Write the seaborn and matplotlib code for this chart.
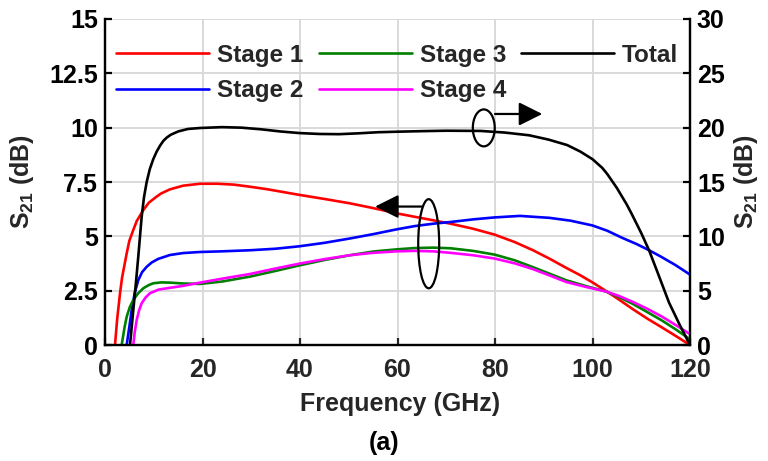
import matplotlib
matplotlib.use("Agg")
import matplotlib.pyplot as plt
import pandas as pd
import seaborn as sns
from matplotlib.patches import Ellipse
from matplotlib.lines import Line2D

# ---- S21 of each amplifier stage (left axis, dB) ----
freq_stage1 = [2.05, 2.5, 3.08, 3.5, 4.45, 5.0, 5.8, 6.5, 7.86, 9.0, 10.6, 11.5, 13.3, 16,
               19.5, 23, 26.4, 29.5, 33.2, 36.5, 39.8, 45, 50.2, 55, 59.8, 63.5, 67.3, 70.9,
               75.5, 79.9, 84, 87.8, 91.2, 94.6, 97.4, 100, 102.8, 105.5, 108.2, 111.2, 114.3,
               117.2, 120]
s21_stage1 = [0, 1.2, 2.38, 3.1, 4.22, 4.8, 5.29, 5.7, 6.21, 6.55, 6.83, 6.97, 7.16, 7.33,
              7.42, 7.42, 7.38, 7.29, 7.17, 7.04, 6.91, 6.72, 6.52, 6.30, 6.06, 5.90, 5.74,
              5.58, 5.35, 5.08, 4.74, 4.36, 3.97, 3.55, 3.22, 2.88, 2.48, 2.08, 1.66, 1.22,
              0.80, 0.40, 0]

freq_stage2 = [4.45, 5.0, 5.47, 6.1, 6.84, 7.6, 8.55, 9.6, 10.9, 13.3, 16, 19.5, 24, 29.8, 35,
               39.8, 45, 50.2, 55, 59.8, 63.5, 67.3, 70.9, 75.5, 79.9, 85.1, 91.2, 95.5, 100,
               103, 106.2, 109, 111.6, 114, 117, 120]
s21_stage2 = [0, 0.85, 1.61, 2.4, 2.99, 3.35, 3.60, 3.8, 3.96, 4.14, 4.23, 4.28, 4.31, 4.36,
              4.43, 4.54, 4.70, 4.90, 5.10, 5.32, 5.47, 5.58, 5.66, 5.78, 5.87, 5.94, 5.85,
              5.72, 5.50, 5.26, 4.92, 4.65, 4.36, 4.07, 3.68, 3.24]

freq_stage3 = [3.42, 4.0, 4.45, 5.1, 5.8, 6.8, 7.86, 9.0, 9.9, 11.5, 13.3, 16, 19.5, 24, 29.8,
               35, 39.8, 45, 50.2, 55, 59.8, 63.5, 67.3, 70.9, 75.5, 79.9, 84, 87.8, 91.2,
               94.6, 98.5, 102.8, 105.5, 108.2, 111.2, 114.3, 117.2, 120]
s21_stage3 = [0, 0.8, 1.30, 1.75, 2.07, 2.38, 2.61, 2.76, 2.84, 2.88, 2.87, 2.83, 2.81, 2.92,
              3.15, 3.41, 3.66, 3.91, 4.13, 4.30, 4.40, 4.46, 4.48, 4.45, 4.33, 4.16, 3.90,
              3.58, 3.28, 2.98, 2.72, 2.46, 2.20, 1.90, 1.52, 1.12, 0.70, 0.26]

freq_stage4 = [5.8, 6.1, 6.5, 7.0, 7.52, 8.3, 9.2, 11, 13.3, 16, 19.5, 24, 29.8, 35, 39.8, 45,
               50.2, 55, 59.8, 63.5, 67.3, 70.9, 75.5, 79.9, 84, 87.8, 91.2, 94.6, 98.5,
               102.8, 105.5, 108.2, 111.2, 114.3, 117.2, 120]
s21_stage4 = [0, 0.6, 1.15, 1.6, 1.92, 2.18, 2.38, 2.55, 2.63, 2.72, 2.87, 3.05, 3.27, 3.52,
              3.74, 3.95, 4.13, 4.24, 4.31, 4.33, 4.31, 4.24, 4.13, 3.98, 3.76, 3.49, 3.20,
              2.90, 2.68, 2.46, 2.25, 1.99, 1.67, 1.30, 0.90, 0.50]

# ---- Cascaded S21 (right axis, dB) ----
freq_total = [5.13, 5.8, 6.4, 6.84, 7.52, 8.0, 8.55, 9.2, 9.9, 10.6, 11.3, 12.0, 12.7, 13.5,
              15, 17, 19.5, 24, 28, 32, 36, 40, 44, 48, 52, 56, 60, 65, 70, 77, 82, 87, 91,
              94.8, 97.5, 100, 102, 103, 104, 105, 106, 107, 108, 109, 110, 111.6, 113.5,
              115.7, 118, 120]
s21_total = [0, 3.2, 6.0, 8.2, 11.8, 13.6, 15.0, 16.2, 17.1, 17.8, 18.35, 18.8, 19.1, 19.35,
             19.65, 19.88, 19.97, 20.05, 20.0, 19.85, 19.65, 19.5, 19.42, 19.4, 19.48, 19.58,
             19.63, 19.68, 19.72, 19.7, 19.55, 19.3, 18.9, 18.4, 17.8, 17.1, 16.3, 15.75,
             15.1, 14.45, 13.7, 12.95, 12.1, 11.2, 10.3, 8.72, 6.5, 3.9, 1.75, 0]

x_ticks = [0, 20, 40, 60, 80, 100, 120]
left_ticks = [0, 2.5, 5, 7.5, 10, 12.5, 15]
left_tick_labels = ["0", "2.5", "5", "7.5", "10", "12.5", "15"]
right_ticks = [0, 5, 10, 15, 20, 25, 30]

stage_names = ["Stage 1", "Stage 2", "Stage 3", "Stage 4"]
stage_colors = ["#ff0000", "#0000ff", "#008000", "#ff00ff"]
stage_freqs = [freq_stage1, freq_stage2, freq_stage3, freq_stage4]
stage_vals = [s21_stage1, s21_stage2, s21_stage3, s21_stage4]

sns.set_style("white")
plt.rcParams["font.family"] = ["Liberation Sans", "DejaVu Sans"]
plt.rcParams["font.weight"] = "bold"
plt.rcParams["mathtext.fontset"] = "custom"
plt.rcParams["mathtext.rm"] = "Liberation Sans:bold"
plt.rcParams["mathtext.bf"] = "Liberation Sans:bold"

W, H = 768, 461
fig = plt.figure(figsize=(W / 100, H / 100), dpi=100)
ax = fig.add_axes([105 / W, 1 - 345 / H, 585 / W, 326 / H])
ax2 = ax.twinx()

LW = 1.9
for name, col, fx, fy in zip(stage_names, stage_colors, stage_freqs, stage_vals):
    df = pd.DataFrame({"f": fx, "s": fy})
    sns.lineplot(data=df, x="f", y="s", ax=ax, color=col, lw=LW, legend=False, zorder=3)

df_tot = pd.DataFrame({"f": freq_total, "s": s21_total})
sns.lineplot(data=df_tot, x="f", y="s", ax=ax2, color="black", lw=LW, legend=False, zorder=3)

ax.set_xlim(0, 120)
ax.set_ylim(0, 15)
ax2.set_ylim(0, 30)
ax.set_xticks(x_ticks)
ax.set_yticks(left_ticks)
ax.set_yticklabels(left_tick_labels)
ax2.set_yticks(right_ticks)
ax.set_xlabel("")
ax.set_ylabel("")
ax2.set_ylabel("")

ax.grid(True, color="#d9d9d9", lw=1.4, zorder=0)
ax.set_axisbelow(True)

for a in (ax, ax2):
    a.spines["top"].set_visible(False)
    for s in ("left", "right", "bottom"):
        a.spines[s].set_linewidth(1.6)
        a.spines[s].set_color("black")
ax.spines["bottom"].set_color("#262626")

ax.tick_params(axis="y", direction="in", length=5, width=1.6, labelsize=18, pad=5,
               colors="black", left=True, right=False)
ax.tick_params(axis="x", direction="in", length=5, width=1.6, labelsize=18, pad=9,
               colors="#262626", bottom=True, top=False)
ax2.tick_params(axis="y", direction="in", length=5, width=1.6, labelsize=18, pad=5,
                colors="black", right=True, left=False)
for lab in ax.get_xticklabels() + ax.get_yticklabels() + ax2.get_yticklabels():
    lab.set_fontweight("bold")

# axis titles
fig.text(400 / W, 1 - 411 / H, "Frequency (GHz)", ha="center", va="baseline",
         fontsize=18, fontweight="bold", color="#262626")
fig.text(22 / W, 1 - 182 / H, r"$\mathbf{S}_{\mathbf{21}}$ (dB)", rotation=90,
         ha="center", va="center", fontsize=18, fontweight="bold")
fig.text(746 / W, 1 - 182 / H, r"$\mathbf{S}_{\mathbf{21}}$ (dB)", rotation=90,
         ha="center", va="center", fontsize=18, fontweight="bold")
fig.text(384 / W, 1 - 450 / H, "(a)", ha="center", va="baseline",
         fontsize=18, fontweight="bold", color="black")

# ellipses grouping the curves, with arrows pointing to their axes
ax.add_patch(Ellipse((77.7, 9.99), 4.5, 1.7, fill=False, ec="black", lw=1.6, zorder=5))
ax.add_patch(Ellipse((66.4, 4.66), 4.3, 4.1, fill=False, ec="black", lw=1.6, zorder=5))
arrow_style = dict(arrowstyle="-|>,head_length=0.6,head_width=0.3", mutation_scale=24,
                   color="black", lw=1.6, shrinkA=0, shrinkB=0)
ax.annotate("", xy=(89.7, 10.63), xytext=(80.0, 10.63), arrowprops=arrow_style, zorder=6)
ax.annotate("", xy=(55.4, 6.37), xytext=(65.0, 6.37), arrowprops=arrow_style, zorder=6)

# legend
handles = [Line2D([], [], color=c, lw=LW) for c in stage_colors] + \
          [Line2D([], [], color="black", lw=LW)]
labels = stage_names + ["Total"]
fig.legend(handles, labels, ncol=3, loc="upper left",
           bbox_to_anchor=(116 / W, 1 - 44 / H), bbox_transform=fig.transFigure,
           frameon=False, borderpad=0, borderaxespad=0, handlelength=3.83,
           handletextpad=0.33, columnspacing=0.62, labelspacing=0.5,
           prop={"size": 17.5, "weight": "bold"})

fig.savefig("out.png", dpi=100)
